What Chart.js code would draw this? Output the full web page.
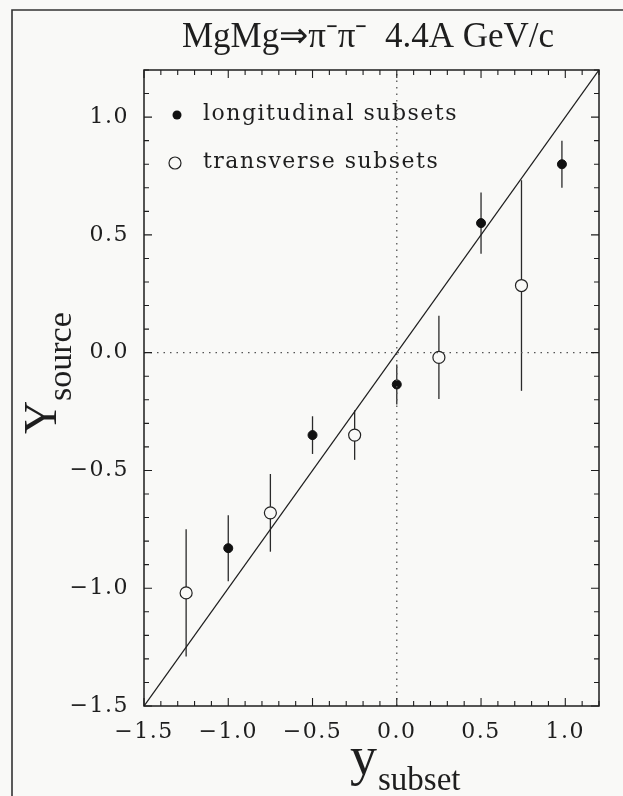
<!DOCTYPE html>
<html>
<head>
<meta charset="utf-8">
<title>MgMg pi-pi- source rapidity</title>
<script src="https://cdn.jsdelivr.net/npm/chart.js@4.4.0/dist/chart.umd.min.js"></script>
<style>
  html, body { margin: 0; padding: 0; background: #f9f9f7; }
  #wrap { width: 623px; height: 796px; }
</style>
</head>
<body>
<div id="wrap"><canvas id="chart" width="623" height="796"></canvas></div>
<script>
// longitudinal subsets (filled dots)
const longX = [-1.0, -0.5, 0.0, 0.5, 0.98];
const longY = [-0.83, -0.35, -0.135, 0.55, 0.80];
const longErr = [0.14, 0.08, 0.085, 0.13, 0.10];

// transverse subsets (open circles)
const transX = [-1.25, -0.75, -0.25, 0.25, 0.74];
const transY = [-1.02, -0.68, -0.35, -0.02, 0.285];
const transErr = [0.27, 0.165, 0.105, 0.177, 0.447];

// reference line y = x and the dotted zero lines
const diagX = [-1.5, 1.2];
const diagY = [-1.5, 1.2];
const zeroSpan = [-1.5, 1.2];

const axisMin = -1.5;
const axisMax = 1.2;

const ink = "#1e1e1e";
const serif = "'Liberation Serif', 'Times New Roman', serif";
const tickFont = "'DejaVu Serif', serif";

const toPoints = (xs, ys) => xs.map((x, i) => ({ x: x, y: ys[i] }));

const fmt = (v) => {
  const r = Math.round(v * 10);
  if (r % 5 !== 0) return "";
  const s = Math.abs(r / 10).toFixed(1);
  return r < 0 ? "\u2212" + s : s;
};

// vertical error bars, drawn under the markers
const errorBars = {
  id: "errorBars",
  beforeDatasetsDraw(chart) {
    const { ctx, scales } = chart;
    ctx.save();
    ctx.strokeStyle = "#2a2a2a";
    ctx.lineWidth = 1.3;
    chart.data.datasets.forEach((ds) => {
      if (!ds.errors) return;
      ds.data.forEach((p, i) => {
        const px = scales.x.getPixelForValue(p.x);
        ctx.beginPath();
        ctx.moveTo(px, scales.y.getPixelForValue(p.y - ds.errors[i]));
        ctx.lineTo(px, scales.y.getPixelForValue(p.y + ds.errors[i]));
        ctx.stroke();
      });
    });
    ctx.restore();
  },
};

// box, inward ticks, titles, legend and page frame
const decor = {
  id: "decor",
  beforeDraw(chart) {
    chart.ctx.letterSpacing = "1.5px";
  },
  afterDatasetsDraw(chart) {
    const { ctx, chartArea: a, scales } = chart;
    ctx.save();
    ctx.letterSpacing = "0px";
    ctx.strokeStyle = ink;
    ctx.lineWidth = 1.5;
    ctx.strokeRect(a.left, a.top, a.right - a.left, a.bottom - a.top);

    ctx.lineWidth = 1.1;
    scales.x.ticks.forEach((t) => {
      const px = scales.x.getPixelForValue(t.value);
      const len = Math.round(t.value * 10) % 5 === 0 ? 8 : 5;
      ctx.beginPath();
      ctx.moveTo(px, a.bottom);
      ctx.lineTo(px, a.bottom - len);
      ctx.moveTo(px, a.top);
      ctx.lineTo(px, a.top + len);
      ctx.stroke();
    });
    scales.y.ticks.forEach((t) => {
      const py = scales.y.getPixelForValue(t.value);
      const len = Math.round(t.value * 10) % 5 === 0 ? 8 : 5;
      ctx.beginPath();
      ctx.moveTo(a.left, py);
      ctx.lineTo(a.left + len, py);
      ctx.moveTo(a.right, py);
      ctx.lineTo(a.right - len, py);
      ctx.stroke();
    });

    // page frame (left and top edges)
    ctx.lineWidth = 1.6;
    ctx.strokeStyle = "#333";
    ctx.beginPath();
    ctx.moveTo(12, 796);
    ctx.lineTo(12, 10);
    ctx.lineTo(623, 10);
    ctx.stroke();

    ctx.fillStyle = ink;
    ctx.textBaseline = "alphabetic";

    // main title
    ctx.font = "35px " + serif;
    ctx.textAlign = "center";
    ctx.fillText("MgMg\u21D2\u03C0\u207B\u03C0\u207B  4.4A GeV/c", 368, 47);

    // x axis title: y_subset
    ctx.textAlign = "left";
    ctx.font = "54px " + serif;
    ctx.fillText("y", 350, 774);
    ctx.font = "33px " + serif;
    ctx.fillText("subset", 378, 790);

    // y axis title: Y_source (rotated)
    ctx.save();
    ctx.translate(56, 434);
    ctx.rotate(-Math.PI / 2);
    ctx.font = "46px " + serif;
    ctx.fillText("Y", 0, 0);
    ctx.font = "34px " + serif;
    ctx.fillText("source", 33, 15);
    ctx.restore();

    // legend
    const lds = chart.data.datasets[3];
    const tds = chart.data.datasets[4];
    ctx.beginPath();
    ctx.arc(177, 115, lds.pointRadius, 0, Math.PI * 2);
    ctx.fillStyle = lds.backgroundColor;
    ctx.fill();
    ctx.beginPath();
    ctx.arc(175, 163, tds.pointRadius, 0, Math.PI * 2);
    ctx.lineWidth = tds.borderWidth;
    ctx.strokeStyle = tds.borderColor;
    ctx.stroke();
    ctx.fillStyle = ink;
    ctx.font = "22px " + tickFont;
    ctx.letterSpacing = "1.5px";
    ctx.fillText(lds.label, 203, 120);
    ctx.fillText(tds.label, 203, 168);
    ctx.restore();
  },
};

new Chart(document.getElementById("chart").getContext("2d"), {
  type: "scatter",
  data: {
    datasets: [
      {
        type: "line",
        label: "y = x",
        data: toPoints(diagX, diagY),
        borderColor: ink,
        borderWidth: 1.3,
        pointRadius: 0,
        fill: false,
      },
      {
        type: "line",
        label: "x = 0",
        data: zeroSpan.map((v) => ({ x: 0, y: v })),
        borderColor: "#555",
        borderWidth: 1.3,
        borderDash: [1.5, 5],
        pointRadius: 0,
        fill: false,
      },
      {
        type: "line",
        label: "y = 0",
        data: zeroSpan.map((v) => ({ x: v, y: 0 })),
        borderColor: "#555",
        borderWidth: 1.3,
        borderDash: [1.5, 5],
        pointRadius: 0,
        fill: false,
      },
      {
        label: "longitudinal subsets",
        data: toPoints(longX, longY),
        errors: longErr,
        pointStyle: "circle",
        pointRadius: 4.5,
        backgroundColor: "#111",
        borderColor: "#111",
        borderWidth: 1,
      },
      {
        label: "transverse subsets",
        data: toPoints(transX, transY),
        errors: transErr,
        pointStyle: "circle",
        pointRadius: 6,
        backgroundColor: "#f9f9f7",
        borderColor: "#222",
        borderWidth: 1.2,
      },
    ],
  },
  options: {
    responsive: false,
    animation: false,
    devicePixelRatio: 1,
    layout: { padding: { left: 0, right: 24, top: 70, bottom: 0 } },
    plugins: {
      legend: { display: false },
      tooltip: { enabled: false },
      title: { display: false },
    },
    scales: {
      x: {
        type: "linear",
        min: axisMin,
        max: axisMax,
        grid: { display: false, drawTicks: false },
        border: { display: false },
        ticks: {
          stepSize: 0.1,
          autoSkip: false,
          maxRotation: 0,
          padding: 13,
          color: ink,
          font: { family: tickFont, size: 22 },
          callback: (v) => fmt(v),
        },
        afterFit: (s) => { s.height = 90; },
      },
      y: {
        type: "linear",
        min: axisMin,
        max: axisMax,
        grid: { display: false, drawTicks: false },
        border: { display: false },
        ticks: {
          stepSize: 0.1,
          autoSkip: false,
          padding: 15,
          color: ink,
          font: { family: tickFont, size: 22 },
          callback: (v) => fmt(v),
        },
        afterFit: (s) => { s.width = 144; },
      },
    },
  },
  plugins: [errorBars, decor],
});
</script>
</body>
</html>
